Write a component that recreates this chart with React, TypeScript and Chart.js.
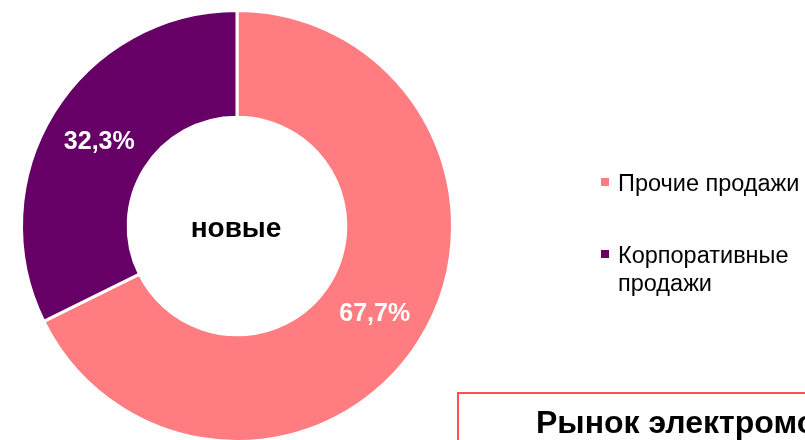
import React, { useEffect, useRef } from "react";
import { Chart, registerables } from "chart.js";

Chart.register(...registerables);

const categories: (string | string[])[] = ["Прочие продажи", ["Корпоративные", "продажи"]];
const shares: number[] = [67.7, 32.3];
const colors: string[] = ["#FF7C80", "#660066"];
const centerLabel = "новые";
const boxTitle = "Рынок электромобилей";

const FONT = "'Liberation Sans', Arial, sans-serif";

const overlayPlugin = {
  id: "overlay",
  afterDatasetsDraw(chart: any) {
    const ctx: CanvasRenderingContext2D = chart.ctx;
    const meta = chart.getDatasetMeta(0);
    ctx.save();
    // value labels
    ctx.fillStyle = "#FFFFFF";
    ctx.font = `bold 25px ${FONT}`;
    ctx.textAlign = "center";
    ctx.textBaseline = "alphabetic";
    meta.data.forEach((arc: any, i: number) => {
      const p = arc.tooltipPosition();
      const txt = shares[i].toFixed(1).replace(".", ",") + "%";
      ctx.fillText(txt, p.x, p.y + 9);
    });
    // center label
    const first = meta.data[0];
    ctx.fillStyle = "#000000";
    ctx.font = `bold 28px ${FONT}`;
    ctx.fillText(centerLabel, first.x - 1, first.y + 11);

    // legend
    ctx.textAlign = "left";
    ctx.font = `23.5px ${FONT}`;
    const legendX = 601;
    let baseline = 191;
    categories.forEach((lab, i) => {
      ctx.fillStyle = colors[i];
      ctx.fillRect(legendX, baseline - 13, 8, 8);
      ctx.fillStyle = "#000000";
      const lines = Array.isArray(lab) ? lab : [lab];
      lines.forEach((ln, j) => {
        ctx.fillText(ln, 618, baseline + j * 28);
      });
      baseline += 72;
    });

    // title box
    ctx.strokeStyle = "#FF5050";
    ctx.lineWidth = 2;
    ctx.strokeRect(458, 393, 400, 100);
    ctx.fillStyle = "#000000";
    ctx.font = `bold 32px ${FONT}`;
    ctx.fillText(boxTitle, 536, 433);
    ctx.restore();
  },
};

export default function App() {
  const ref = useRef<HTMLCanvasElement | null>(null);
  useEffect(() => {
    document.body.style.margin = "0";
    const canvas = ref.current!;
    const chart = new Chart(canvas, {
      type: "doughnut",
      data: {
        labels: categories as any,
        datasets: [
          {
            data: shares,
            backgroundColor: colors,
            borderColor: "#FFFFFF",
            borderWidth: 3,
          },
        ],
      },
      options: {
        responsive: false,
        animation: false,
        cutout: "50.5%",
        layout: { padding: { left: 19, top: 9, right: 350, bottom: 17 } },
        plugins: {
          legend: { display: false },
          tooltip: { enabled: false },
        },
      },
      plugins: [overlayPlugin],
    });
    return () => chart.destroy();
  }, []);
  return (
    <div style={{ width: 805, height: 440, overflow: "hidden", position: "relative" }}>
      <canvas ref={ref} width={805} height={460} style={{ display: "block" }} />
    </div>
  );
}
